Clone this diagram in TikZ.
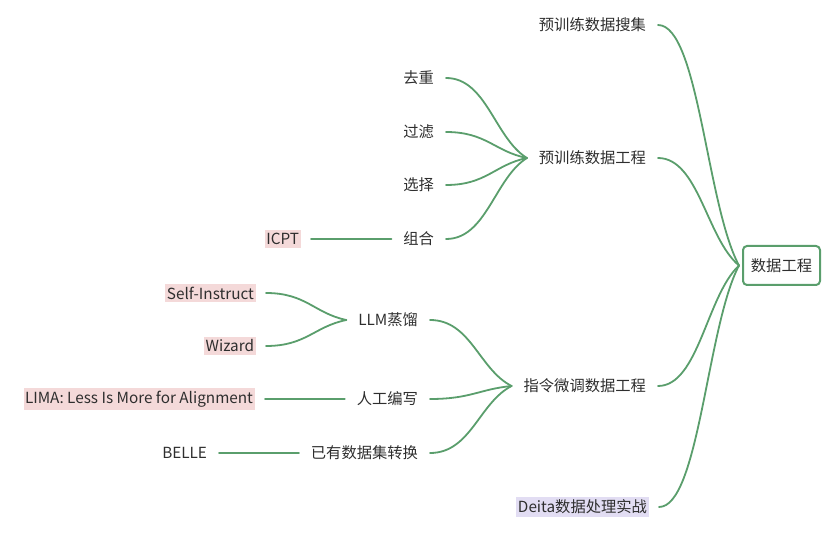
\documentclass[tikz,border=0pt]{standalone}
\usepackage{fontspec}
\setmainfont{Noto Sans CJK SC}
\usetikzlibrary{calc}
\definecolor{lnk}{HTML}{5A9E6C}
\definecolor{txtc}{HTML}{2E2E2E}
\definecolor{pinkbg}{HTML}{F4D9D9}
\definecolor{lavbg}{HTML}{E2DDF3}
\tikzset{
  lbl/.style={anchor=east, inner xsep=1.5pt, inner ysep=3pt, outer sep=10.5pt, text=txtc,
    font=\fontsize{15.3}{18}\selectfont},
  pinkl/.style={lbl, fill=pinkbg},
  lavl/.style={lbl, fill=lavbg},
  rootbox/.style={draw=lnk, line width=2pt, rounded corners=4pt, minimum width=77pt,
    minimum height=39pt, inner sep=0pt, outer sep=4pt, text=txtc,
    font=\fontsize{15.3}{18}\selectfont},
  lnkline/.style={draw=lnk, line width=1.8pt, line cap=round}
}
\newcommand\linkcurve[2]{%
  \draw[lnkline] let \p1=(#1), \p2=(#2) in (\p1) .. controls ({\x1+0.5*(\x2-\x1)},\y1) and ({\x2-0.4*(\x2-\x1)},{\y2-0.25*(\y2-\y1)}) .. (\p2);}
\begin{document}
\begin{tikzpicture}[x=1pt,y=-1pt]
\useasboundingbox (0,0) rectangle (824,534);
\node[rootbox] (root) at (781.5,265.5) {数据工程};
\node[lbl] (s1) at (658,25) {预训练数据搜集};
\node[lbl] (s2) at (658,158) {预训练数据工程};
\node[lbl] (s3) at (658,386) {指令微调数据工程};
\node[lavl] (s4) at (659,507) {Deita数据处理实战};
\node[lbl] (c1) at (446,78) {去重};
\node[lbl] (c2) at (446,132) {过滤};
\node[lbl] (c3) at (446,185) {选择};
\node[lbl] (c4) at (446,239) {组合};
\node[pinkl] (icpt) at (311,239) {ICPT};
\node[lbl] (d1) at (430,320) {LLM蒸馏};
\node[lbl] (d2) at (430,399) {人工编写};
\node[lbl] (d3) at (430,453) {已有数据集转换};
\node[pinkl] (e1) at (266,293) {Self-Instruct};
\node[pinkl] (e2) at (266,346) {Wizard};
\node[pinkl] (e3) at (265,399) {LIMA: Less Is More for Alignment};
\node[lbl] (e4) at (219,453) {BELLE};
\linkcurve{s1.east}{root.west}
\linkcurve{s2.east}{root.west}
\linkcurve{s3.east}{root.west}
\linkcurve{s4.east}{root.west}
\linkcurve{c1.east}{s2.west}
\linkcurve{c2.east}{s2.west}
\linkcurve{c3.east}{s2.west}
\linkcurve{c4.east}{s2.west}
\linkcurve{d1.east}{s3.west}
\linkcurve{d2.east}{s3.west}
\linkcurve{d3.east}{s3.west}
\linkcurve{e1.east}{d1.west}
\linkcurve{e2.east}{d1.west}
\draw[lnkline] (icpt.east) -- (c4.west);
\draw[lnkline] (e3.east) -- (d2.west);
\draw[lnkline] (e4.east) -- (d3.west);
\end{tikzpicture}
\end{document}
